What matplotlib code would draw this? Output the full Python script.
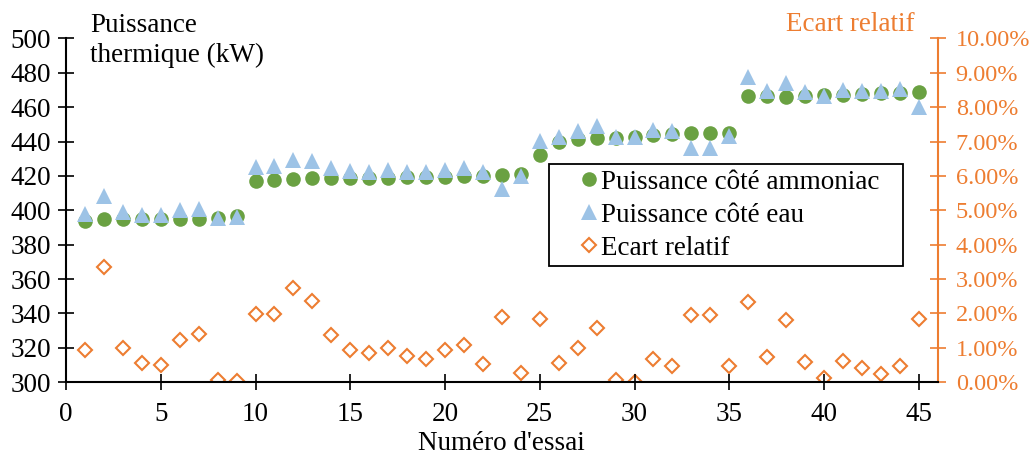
import matplotlib
matplotlib.use('Agg')
from matplotlib import pyplot as plt
from matplotlib.ticker import FuncFormatter, MultipleLocator
from matplotlib.patches import Rectangle
import numpy as np

plt.rcParams['font.family'] = ['Liberation Serif', 'DejaVu Serif']

# données
essai = list(range(1, 46))
p_ammoniac = [393.9, 394.9, 395.0, 395.0, 395.0, 395.0, 395.0, 395.5, 396.4,
              416.8, 417.7, 418.1, 418.5, 418.7, 418.7, 418.8, 419.0, 419.2, 419.4,
              419.6, 419.8, 420.0, 420.6, 421.0, 432.3, 440.0, 441.4, 442.0, 442.2,
              442.6, 443.9, 444.3, 444.9, 444.9, 445.2, 466.5, 466.2, 465.8, 466.2,
              467.0, 467.2, 467.5, 468.1, 468.1, 468.7]
p_eau = [397.6, 408.2, 399.0, 397.2, 397.0, 399.9, 400.6, 395.8, 396.2,
         425.0, 426.0, 429.5, 428.6, 424.6, 422.7, 422.4, 423.2, 422.3, 422.2,
         423.5, 424.4, 422.2, 412.3, 419.9, 440.3, 442.5, 445.9, 449.0, 442.5,
         442.7, 446.9, 446.3, 436.2, 436.2, 443.1, 477.4, 469.4, 474.3, 468.9,
         466.6, 470.1, 469.4, 469.3, 470.3, 460.0]
ecart = [0.95, 3.35, 1.00, 0.57, 0.50, 1.22, 1.40, 0.08, 0.04,
         1.98, 1.99, 2.73, 2.36, 1.38, 0.94, 0.85, 1.00, 0.75, 0.68,
         0.94, 1.08, 0.53, 1.90, 0.27, 1.84, 0.57, 1.01, 1.59, 0.08,
         0.02, 0.68, 0.46, 1.95, 1.95, 0.48, 2.33, 0.73, 1.82, 0.59,
         0.12, 0.62, 0.41, 0.25, 0.48, 1.85]

vert = '#6aa142'
bleu = '#9dc3e6'
orange = '#ed7d31'
fs = 19.5

fig = plt.figure(figsize=(10.32, 4.54), dpi=100)
ax = fig.add_axes([0.064, 0.158, 0.8446, 0.7576])
ax2 = ax.twinx()

l1, = ax.plot(essai, p_ammoniac, 'o', color=vert, markersize=10.5, markeredgewidth=0,
              label='Puissance côté ammoniac')
l2, = ax.plot(essai, p_eau, '^', color=bleu, markersize=11.5, markeredgewidth=0,
              label='Puissance côté eau')
l3, = ax2.plot(essai, ecart, 'D', markerfacecolor='none', markeredgecolor=orange,
               markersize=7.5, markeredgewidth=1.5, label='Ecart relatif')

ax.set_xlim(0, 46)
ax.set_ylim(300, 500)
ax2.set_ylim(0, 10)
ax.set_xticks(range(0, 46, 5))
ax.yaxis.set_major_locator(MultipleLocator(20))
ax2.yaxis.set_major_locator(MultipleLocator(1))
ax2.yaxis.set_major_formatter(FuncFormatter(lambda v, p: f'{v:.2f}%'))

for s in ['top', 'right']:
    ax.spines[s].set_visible(False)
for s in ['top', 'left', 'bottom']:
    ax2.spines[s].set_visible(False)
ax.spines['left'].set_linewidth(1.5)
ax.spines['bottom'].set_linewidth(1.5)
ax2.spines['right'].set_color(orange)
ax2.spines['right'].set_linewidth(1.5)

ax.tick_params(axis='both', direction='inout', length=12, width=1.2, labelsize=fs,
               colors='black')
ax.tick_params(axis='x', pad=8)
ax.tick_params(axis='y', pad=5)
ax2.tick_params(axis='y', direction='inout', length=12, width=1.2, labelsize=17.5,
                colors=orange, pad=7)

ax.set_xlabel("Numéro d'essai", fontsize=fs, labelpad=3)
fig.text(0.087, 0.972, 'Puissance\nthermique (kW)', fontsize=fs, ha='left', va='top',
         linespacing=1.25)
fig.text(0.886, 0.946, 'Ecart relatif', fontsize=fs, ha='right', va='center', color=orange)

# légende : cadre dessiné à part pour garder les marges larges
leg = ax.legend(handles=[l1, l2, l3], loc='center', bbox_to_anchor=(0.706, 0.526),
                bbox_transform=fig.transFigure, fontsize=fs, frameon=False,
                handlelength=0.8, handletextpad=0.05, labelspacing=0.3,
                borderpad=0, borderaxespad=0, markerscale=1.0)
fig.patches.append(Rectangle((549 / 1032, 1 - 266 / 454), 354 / 1032, 102 / 454,
                             transform=fig.transFigure, fill=False, edgecolor='black',
                             linewidth=1.3, zorder=5))
ax.set_zorder(ax2.get_zorder() + 1)
ax.patch.set_visible(False)

plt.savefig('out.png', dpi=100)
